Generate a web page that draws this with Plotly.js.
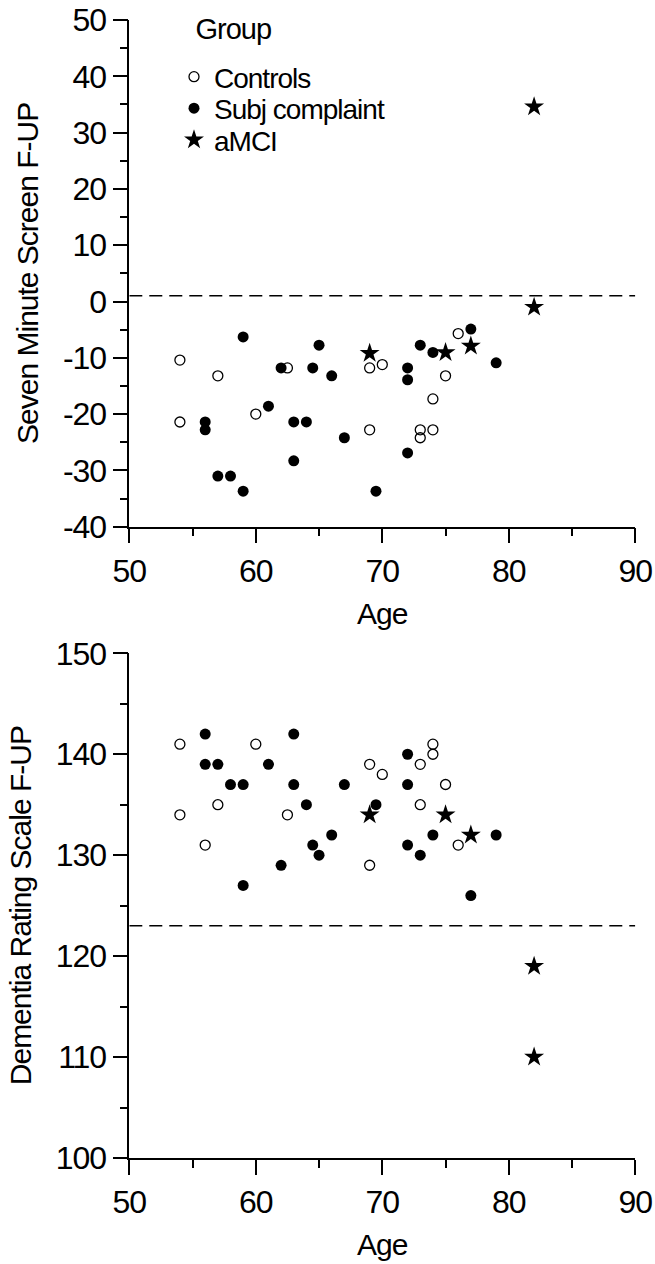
<!DOCTYPE html>
<html>
<head>
<meta charset="utf-8">
<script src="https://cdn.plot.ly/plotly-3.0.1.min.js"></script>
<style>
  html, body { margin: 0; padding: 0; background: #fff; }
  #chart { width: 655px; height: 1264px; }
  #chart svg text { letter-spacing: -1px; }
</style>
</head>
<body>
<div id="chart"></div>
<script>
// ---- Data ----
var groupNames = ['Controls', 'Subj complaint', 'aMCI'];

// Seven Minute Screen F-UP vs Age
var ctrlAge7 = [54, 54, 57, 60, 62.5, 69, 69, 70, 73, 73, 74, 74, 75, 76];
var ctrl7    = [-10.4, -21.4, -13.2, -20.0, -11.8, -11.8, -22.8, -11.2, -22.8, -24.2, -17.3, -22.8, -13.2, -5.7];

var subjAge7 = [56, 56, 57, 58, 59, 59, 61, 62, 63, 63, 64, 64.5, 65, 66, 67, 69.5, 72, 72, 72, 73, 74, 77, 79];
var subj7    = [-21.4, -22.8, -31.0, -31.0, -6.3, -33.7, -18.6, -11.8, -21.4, -28.3, -21.4, -11.8, -7.75, -13.2, -24.2, -33.7, -11.8, -13.9, -26.9, -7.75, -9.05, -4.9, -10.9];

var mciAge7  = [69, 75, 77, 82, 82];
var mci7     = [-9.2, -9.05, -7.9, -1.0, 34.6];

var cutoff7 = 1;

// Dementia Rating Scale F-UP vs Age
var ctrlAgeDRS = [54, 54, 56, 57, 60, 62.5, 69, 69, 70, 73, 73, 74, 74, 75, 76];
var ctrlDRS    = [141, 134, 131, 135, 141, 134, 139, 129, 138, 139, 135, 141, 140, 137, 131];

var subjAgeDRS = [56, 56, 57, 58, 59, 59, 61, 62, 63, 63, 64, 64.5, 65, 66, 67, 69.5, 72, 72, 72, 73, 74, 77, 79];
var subjDRS    = [142, 139, 139, 137, 137, 127, 139, 129, 142, 137, 135, 131, 130, 132, 137, 135, 140, 137, 131, 130, 132, 126, 132];

var mciAgeDRS  = [69, 75, 77, 82, 82];
var mciDRS     = [134, 134, 132, 119, 110];

var cutoffDRS = 123;

// Tick values / labels
var ageTicks   = [50, 60, 70, 80, 90];
var sevenTicks = [-40, -30, -20, -10, 0, 10, 20, 30, 40, 50];
var drsTicks   = [100, 110, 120, 130, 140, 150];

var xLabel = 'Age';
var yLabel7 = 'Seven Minute Screen F-UP';
var yLabelDRS = 'Dementia Rating Scale F-UP';
var legendTitle = 'Group';

// ---- Styles ----
var FAM = 'Liberation Sans, Arial, Helvetica, sans-serif';
var tickFont  = {family: FAM, size: 32, color: '#000'};
var titleFont = {family: FAM, size: 30, color: '#000'};
var legFont   = {family: FAM, size: 28, color: '#000'};
var W = 655, H = 1264;

var openMarker = {symbol: 'circle-open', size: 10, color: '#000', line: {width: 1.3, color: '#000'}};
var fillMarker = {symbol: 'circle', size: 11, color: '#000', line: {width: 0}};
var starMarker = {symbol: 'star', size: 15, color: '#000', line: {width: 0}};

function tr(x, y, name, marker, xa, ya, legend, show) {
  return {type: 'scatter', mode: 'markers', x: x, y: y, name: name, marker: marker,
          xaxis: xa, yaxis: ya, legend: legend, showlegend: show, hoverinfo: 'skip', cliponaxis: false};
}

var data = [
  tr(ctrlAge7, ctrl7, groupNames[0], openMarker, 'x', 'y', 'legend', true),
  tr(subjAge7, subj7, groupNames[1], fillMarker, 'x', 'y', 'legend2', true),
  tr(mciAge7, mci7, groupNames[2], starMarker, 'x', 'y', 'legend3', true),
  tr(ctrlAgeDRS, ctrlDRS, groupNames[0], openMarker, 'x2', 'y2', 'legend', false),
  tr(subjAgeDRS, subjDRS, groupNames[1], fillMarker, 'x2', 'y2', 'legend2', false),
  tr(mciAgeDRS, mciDRS, groupNames[2], starMarker, 'x2', 'y2', 'legend3', false)
];

var xDom = [129.3 / W, 635.3 / W];
function py(px) { return 1 - px / H; }
function labels(arr) { return arr.map(function (v) { return String(v); }); }

var tickBase = {
  ticks: 'outside', ticklen: 15, tickwidth: 1.5, tickcolor: '#000',
  showline: true, linecolor: '#000', linewidth: 1.5, showgrid: false, zeroline: false,
  tickfont: tickFont, automargin: false, fixedrange: true
};
var minorTicks = {tickmode: 'linear', tick0: 0, dtick: 5, ticks: 'outside', ticklen: 8,
                  tickwidth: 1.5, tickcolor: '#000', showgrid: false};

function xAxis(anchor) {
  return Object.assign({}, tickBase, {
    domain: xDom, anchor: anchor, range: [50, 90],
    tickmode: 'array', tickvals: ageTicks, ticktext: labels(ageTicks),
    minor: minorTicks,
    title: {text: xLabel, font: titleFont, standoff: 15}
  });
}
function yAxis(anchor, dom, range, ticks, title) {
  return Object.assign({}, tickBase, {
    domain: dom, anchor: anchor, range: range,
    tickmode: 'array', tickvals: ticks, ticktext: labels(ticks),
    minor: minorTicks,
    title: {text: title, font: titleFont, standoff: 12}
  });
}

var legBase = {xanchor: 'left', yanchor: 'middle', bgcolor: 'rgba(0,0,0,0)', borderwidth: 0,
               font: legFont, itemclick: false, itemdoubleclick: false};
function leg(ypx) { return Object.assign({}, legBase, {x: 174 / W, y: py(ypx)}); }

var layout = {
  width: W, height: H,
  margin: {l: 0, r: 0, t: 0, b: 0, pad: 0},
  paper_bgcolor: '#fff', plot_bgcolor: '#fff',
  font: titleFont,
  showlegend: true,
  xaxis: xAxis('y'),
  yaxis: yAxis('x', [py(526.7), py(20)], [-40, 50], sevenTicks, yLabel7),
  xaxis2: xAxis('y2'),
  yaxis2: yAxis('x2', [py(1158), py(653.3)], [100, 150], drsTicks, yLabelDRS),
  legend: leg(77),
  legend2: leg(108.5),
  legend3: leg(140),
  annotations: [{
    text: legendTitle, xref: 'paper', yref: 'paper', x: 233 / W, y: py(29),
    xanchor: 'center', yanchor: 'middle', showarrow: false, font: {family: FAM, size: 29, color: '#000'}
  }],
  shapes: [
    {type: 'line', xref: 'x', yref: 'y', x0: 50, x1: 90, y0: cutoff7, y1: cutoff7,
     line: {color: '#000', width: 1.5, dash: '13px,7px'}},
    {type: 'line', xref: 'x2', yref: 'y2', x0: 50, x1: 90, y0: cutoffDRS, y1: cutoffDRS,
     line: {color: '#000', width: 1.5, dash: '13px,7px'}}
  ]
};

Plotly.newPlot('chart', data, layout, {displayModeBar: false, responsive: false});
</script>
</body>
</html>
